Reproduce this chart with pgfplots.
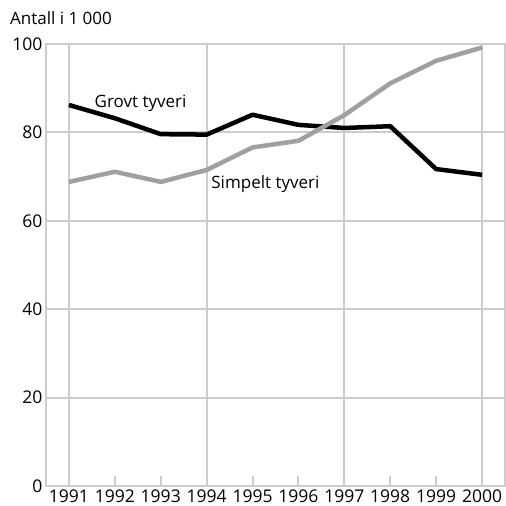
\documentclass[border=0pt]{standalone}
\usepackage{pgfplots}
\pgfplotsset{compat=1.18}
\usepackage{fontspec}
\setmainfont{Open Sans}
\definecolor{gridc}{HTML}{CCCCCC}
\definecolor{serg}{HTML}{A0A0A0}
\begin{document}
\begin{tikzpicture}
\begin{axis}[
  width=459pt, height=442pt, scale only axis,
  xmin=1990.5, xmax=2000.5, ymin=0, ymax=100,
  axis line style={gridc, line width=2pt},
  xtick={1991,...,2000},
  ytick={0,20,...,100},
  /pgf/number format/assume math mode=true,
  xticklabel style={/pgf/number format/1000 sep={}},
  ticklabel style={font=\fontsize{17.5}{20}\selectfont},
  extra x ticks={1991,1994,1997,2000},
  extra x tick labels={},
  extra x tick style={grid=major},
  ymajorgrids=true,
  grid style={gridc, line width=2pt},
  tick align=inside,
  major tick length=10pt,
  xtick pos=bottom, ytick pos=left,
  x tick style={gridc, line width=2pt},
  y tick style={draw=none},
  clip=false,
]
\addplot[black, line width=4.5pt, line join=round] coordinates {
 (1991,86.2) (1992,83.2) (1993,79.6) (1994,79.5) (1995,84.0)
 (1996,81.7) (1997,81.0) (1998,81.4) (1999,71.7) (2000,70.4)};
\addplot[serg, line width=4.5pt, line join=round] coordinates {
 (1991,68.8) (1992,71.1) (1993,68.8) (1994,71.5) (1995,76.6)
 (1996,78.1) (1997,83.9) (1998,91.1) (1999,96.2) (2000,99.2)};
\node[font=\fontsize{17}{20}\selectfont, anchor=base] at (axis cs:1992.56,85.7) {Grovt tyveri};
\node[font=\fontsize{17}{20}\selectfont, anchor=base] at (axis cs:1995.28,67.2) {Simpelt tyveri};
\node[font=\fontsize{17}{20}\selectfont, anchor=base west, inner sep=0pt] at ([xshift=-36pt, yshift=19pt]rel axis cs:0,1) {Antall i 1 000};
\path ([xshift=-46pt, yshift=-20pt]rel axis cs:0,0) rectangle ([xshift=1pt, yshift=44pt]rel axis cs:1,1);
\end{axis}
\end{tikzpicture}
\end{document}
